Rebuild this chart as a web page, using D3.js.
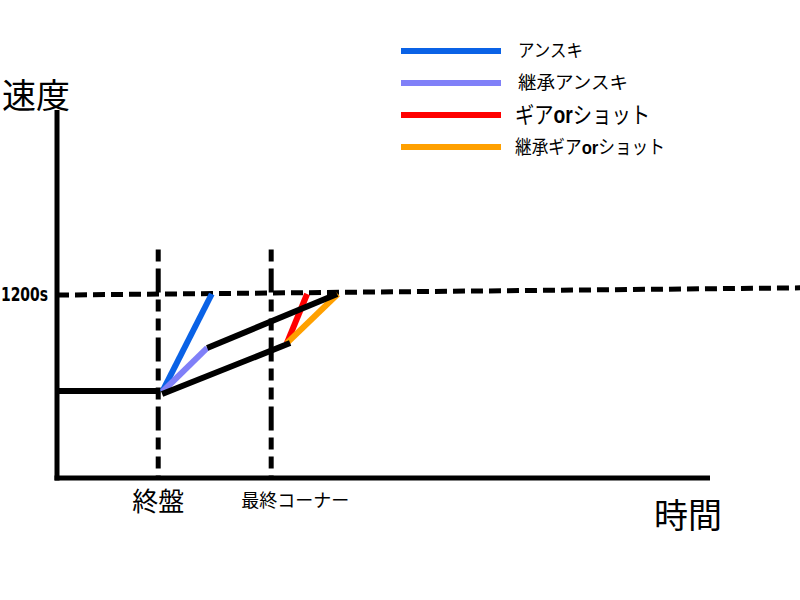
<!DOCTYPE html>
<html><head><meta charset="utf-8">
<script src="https://cdn.jsdelivr.net/npm/d3@7"></script>
<style>body{margin:0;background:#fff}</style>
</head><body>
<script>
// conceptual units: time 0..100 (axis end), speed with 1200 reference
const timeMarks = [{label:"終盤", t:15.5}, {label:"最終コーナー", t:32.8}];
const yTickValues = [1200];
const yTickLabels = ["1200s"];
const refLine = [{t:0, v:1193}, {t:113.8, v:1240}];
const baseLine = [{t:0, v:567}, {t:15.8, v:567}];
const lowerBlack = [{t:16.1, v:548}, {t:35.7, v:880}];
const upperBlack = [{t:23.0, v:848}, {t:42.9, v:1200}];
const blueSeg = [{t:16.1, v:561}, {t:23.7, v:1200}];
const lavenderSeg = [{t:16.1, v:561}, {t:23.0, v:848}];
const redSeg = [{t:35.2, v:880}, {t:38.3, v:1200}];
const orangeSeg = [{t:35.2, v:880}, {t:43.0, v:1200}];
const legendNames = ["アンスキ", "継承アンスキ", "ギアorショット", "継承ギアorショット"];
const legendColors = ["#0a62e6", "#8080f8", "#ff0000", "#ffa000"];

const W = 800, H = 600;
const svg = d3.select("body").append("svg").attr("width", W).attr("height", H);
const x = d3.scaleLinear().domain([0, 100]).range([57, 710]);
const y = d3.scaleLinear().domain([0, 1200]).range([478, 294]);
const line = d3.line().x(d => x(d.t)).y(d => y(d.v));
const jp = "'Noto Sans CJK JP', sans-serif";

// reference dashed line
svg.append("path").datum(refLine).attr("d", line)
  .attr("stroke", "#000").attr("stroke-width", 5).attr("fill", "none")
  .attr("stroke-dasharray", "12,6");

// vertical dash lines
timeMarks.forEach(m => {
  svg.append("line").attr("x1", x(m.t)).attr("x2", x(m.t))
    .attr("y1", y(1490)).attr("y2", y(0))
    .attr("stroke", "#000").attr("stroke-width", 5)
    .attr("stroke-dasharray", "12,7,24,7,12,7");
});

// axes
svg.append("line").attr("x1", x(0)).attr("x2", x(0)).attr("y1", y(2400)).attr("y2", y(0) + 2.5)
  .attr("stroke", "#000").attr("stroke-width", 5);
svg.append("line").attr("x1", x(0) - 2.5).attr("x2", x(100)).attr("y1", y(0)).attr("y2", y(0))
  .attr("stroke", "#000").attr("stroke-width", 5);

// y tick label
yTickValues.forEach((v, i) => {
  svg.append("text").attr("x", 1).attr("y", y(v) + 7)
    .attr("font-family", "'Liberation Sans Narrow', 'DejaVu Sans Condensed', sans-serif")
    .attr("font-weight", "bold").attr("font-size", 19)
    .attr("textLength", 47).attr("lengthAdjust", "spacingAndGlyphs").text(yTickLabels[i]);
});

// colored segments
const segs = [
  [blueSeg, legendColors[0]], [lavenderSeg, legendColors[1]],
  [redSeg, legendColors[2]], [orangeSeg, legendColors[3]]
];
segs.forEach(([d, c]) => {
  svg.append("path").datum(d).attr("d", line).attr("stroke", c)
    .attr("stroke-width", 6).attr("fill", "none");
});
// black lines
[baseLine, lowerBlack, upperBlack].forEach(d => {
  svg.append("path").datum(d).attr("d", line).attr("stroke", "#000")
    .attr("stroke-width", 6).attr("fill", "none");
});

// axis titles
svg.append("text").attr("x", 2).attr("y", 108).attr("font-family", jp)
  .attr("font-size", 34).text("速度");
svg.append("text").attr("x", 654).attr("y", 528).attr("font-family", jp)
  .attr("font-size", 34).text("時間");
svg.append("text").attr("x", x(timeMarks[0].t)).attr("y", 511).attr("text-anchor", "middle")
  .attr("font-family", jp).attr("font-size", 26).text(timeMarks[0].label);
svg.append("text").attr("x", x(timeMarks[1].t) + 24).attr("y", 507).attr("text-anchor", "middle")
  .attr("font-family", jp).attr("font-size", 18).text(timeMarks[1].label);

// legend
const legY = [51, 83, 115, 147];
const legSize = [18, 18, 23, 19];
const legX = [518, 518, 515, 515];
const legLen = [65, 110, 135, 150];
legendNames.forEach((name, i) => {
  svg.append("line").attr("x1", 401).attr("x2", 501).attr("y1", legY[i]).attr("y2", legY[i])
    .attr("stroke", legendColors[i]).attr("stroke-width", 6);
  const g = svg.append("g");
  const t = g.append("text").attr("x", 0).attr("y", 0)
    .attr("font-family", jp).attr("font-size", legSize[i]);
  const parts = name.split("or");
  if (parts.length === 2) {
    t.append("tspan").text(parts[0]);
    t.append("tspan").attr("font-family", "'Liberation Sans', Arial, sans-serif")
      .attr("font-weight", "900").text("or");
    t.append("tspan").text(parts[1]);
  } else {
    t.text(name);
  }
  const w = t.node().getComputedTextLength();
  const sx = legLen[i] / w;
  g.attr("transform", `translate(${legX[i]},${legY[i] + legSize[i] * 0.36}) scale(${sx},1)`);
});
</script>
</body></html>
